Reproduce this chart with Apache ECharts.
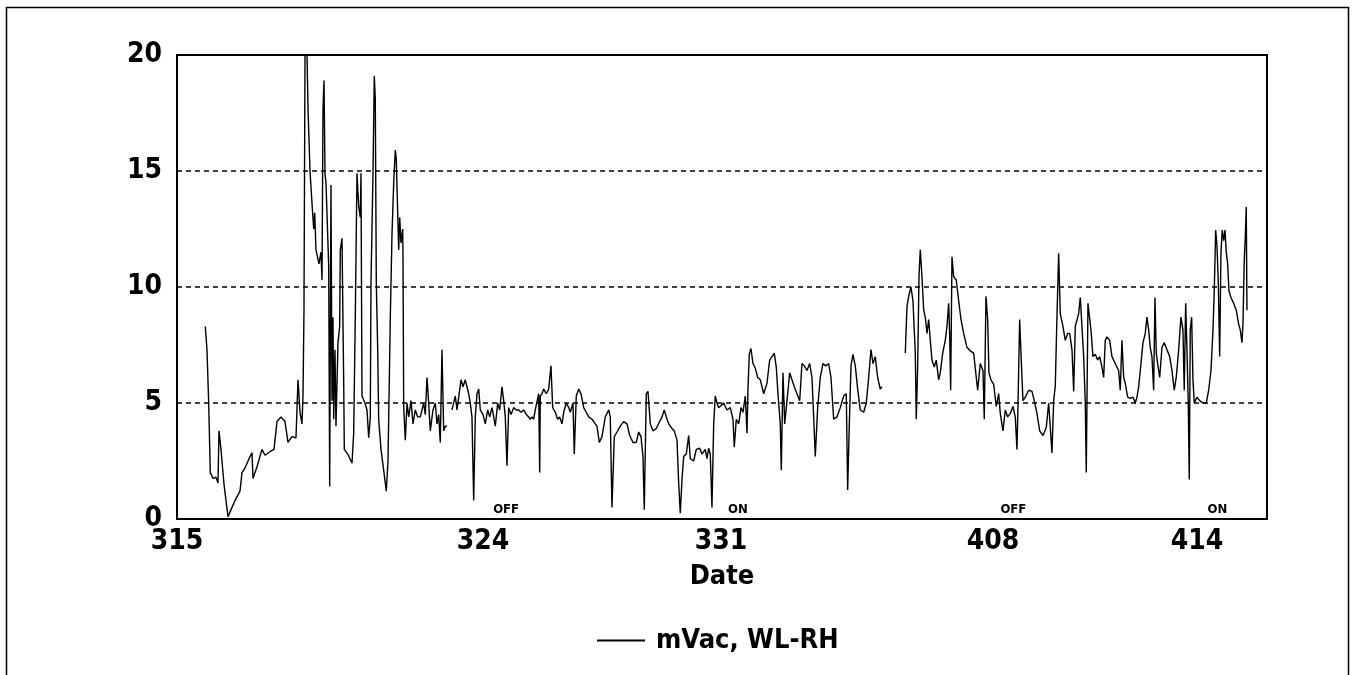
<!DOCTYPE html>
<html>
<head>
<meta charset="utf-8">
<script src="https://cdn.jsdelivr.net/npm/echarts@6/dist/echarts.min.js"></script>
<style>
html,body{margin:0;padding:0;background:#fff;}
#chart{width:1352px;height:675px;}
</style>
</head>
<body>
<div id="chart"></div>
<script>
// Time in days since 3/15 00:00
const times = [
0.832,0.882,0.932,0.979,1.059,1.147,1.206,1.235,1.294,1.382,1.5,1.618,1.706,1.853,1.912,2.0,2.118,2.206,2.235,2.353,
2.5,2.588,2.735,2.853,2.941,3.059,3.176,3.265,3.382,3.5,3.559,3.618,3.676,3.706,3.735,3.765,3.824,3.853,3.912,3.971,
4.021,4.05,4.088,4.176,4.235,4.265,4.294,4.324,4.353,4.382,4.462,4.491,4.529,4.559,4.588,4.609,4.647,4.676,4.735,4.785,
4.803,4.853,4.903,4.921,5.021,5.147,5.197,5.244,5.294,5.344,5.391,5.412,5.441,5.529,5.588,5.638,5.685,5.706,5.765,5.803,
5.832,5.862,5.903,5.932,6.0,6.088,6.156,6.206,6.274,6.324,6.374,6.421,6.45,6.491,6.521,6.55,6.588,6.638,6.647,6.668,
6.715,6.765,6.815,6.882,6.941,7.009,7.079,7.156,7.256,7.303,7.353,7.403,7.45,7.529,7.597,7.647,7.697,7.744,7.794,7.844,
7.891,7.941,8.0,
8.088,8.185,8.235,8.285,8.353,8.412,8.479,8.529,8.579,8.626,8.676,8.726,8.774,8.824,8.874,8.921,9.0,9.068,9.138,9.197,
9.265,9.315,9.362,9.432,9.491,9.559,9.609,9.656,9.706,9.756,9.824,9.903,9.979,10.05,10.118,10.197,10.274,10.344,10.391,10.441,
10.491,10.538,10.638,10.668,10.685,10.735,10.785,10.862,10.932,11.0,11.05,11.126,11.197,11.256,11.324,11.374,11.45,11.521,11.568,11.647,
11.685,11.744,11.815,11.882,11.962,12.038,12.109,12.206,12.303,12.353,12.421,12.5,12.597,12.697,12.744,12.794,12.862,12.941,13.038,13.138,
13.235,13.315,13.412,13.509,13.579,13.647,13.706,13.744,13.803,13.853,13.921,14.0,14.097,14.197,14.265,14.332,14.391,14.462,14.559,14.626,
14.706,14.756,14.803,14.853,14.903,14.979,15.05,15.097,15.197,15.274,15.374,15.441,15.538,15.588,15.638,15.685,15.735,15.785,15.832,15.882,
15.932,15.979,16.079,16.176,16.274,16.353,16.391,16.45,16.521,16.588,16.647,16.715,16.765,16.794,16.832,16.882,16.941,17.009,17.079,17.156,
17.256,17.353,17.432,17.5,17.568,17.626,17.676,17.744,17.774,17.824,17.874,17.941,18.021,18.088,18.156,18.235,18.315,18.382,18.45,18.529,
18.609,18.676,18.726,18.774,18.844,18.921,19.0,19.079,19.168,19.235,19.315,19.412,19.509,19.609,19.685,19.726,19.765,19.824,19.882,19.95,
20.021,20.097,20.197,20.274,20.344,20.412,20.471,20.538,20.609,20.685,20.735,21.0,
21.421,21.471,21.521,21.588,21.647,21.715,21.744,21.785,21.824,21.862,21.912,21.962,22.009,22.059,22.109,22.156,22.206,22.274,22.332,22.403,
22.45,22.521,22.597,22.647,22.697,22.726,22.756,22.794,22.844,22.921,22.991,23.059,23.138,23.235,23.332,23.432,23.509,23.55,23.626,23.706,
23.744,23.794,23.844,23.882,23.941,24.021,24.097,24.168,24.215,24.294,24.362,24.432,24.509,24.588,24.656,24.706,24.735,24.785,24.832,24.882,
24.95,25.05,25.147,25.215,25.294,25.374,25.471,25.568,25.638,25.685,25.735,25.785,25.832,25.882,25.932,25.979,26.059,26.126,26.197,26.256,
26.324,26.374,26.421,26.521,26.568,26.618,26.668,26.715,26.744,26.794,26.844,26.882,26.941,27.009,27.079,27.138,27.206,27.256,27.303,27.353,
27.432,27.5,27.597,27.697,27.744,27.794,27.844,27.891,27.962,28.038,28.118,28.185,28.235,28.285,28.353,28.412,28.479,28.529,28.579,28.626,
28.676,28.726,28.765,28.803,28.844,28.903,28.971,29.038,29.118,29.197,29.265,29.332,29.391,29.462,29.529,29.588,29.626,29.668,29.706,29.744,
29.774,29.803,29.844,29.882,29.921,30.0,30.079,30.176,30.274,30.344,30.412,30.471,30.509,30.55,30.588,30.626,30.668,30.706,30.744,30.785,
30.824,30.862,30.903,30.941,31.0,31.079,31.156,31.226,31.274,31.324,31.353,31.391,31.421,31.45,31.471
];
const values = [
8.3,7.3,5.0,2.0,1.75,1.8,1.55,3.8,3.0,1.5,0.1,0.5,0.8,1.2,2.0,2.2,2.6,2.85,1.75,2.25,
3.0,2.75,2.9,3.0,4.2,4.4,4.2,3.3,3.55,3.5,6.0,4.6,4.1,5.3,9.0,20,20,17.7,15,13.6,
12.5,13.2,11.6,11.0,11.5,10.3,17.7,18.9,14.9,14.5,10.9,1.4,14.4,5.1,8.7,4.3,7.3,4.0,7.6,8.3,
11.6,12.1,5.9,3.0,2.8,2.4,3.7,8.7,14.9,13.5,13.0,14.9,5.3,5.0,4.7,3.5,4.4,10.2,14.9,19.1,
18.1,10.2,7.3,4.3,3.0,2.0,1.2,2.5,8.7,12.3,14.5,15.9,15.5,13.2,11.6,13.0,11.9,12.5,11.3,4.8,
3.4,5.0,4.4,5.1,4.1,4.7,4.4,4.4,5.0,4.5,6.1,5.0,3.8,4.7,5.0,4.1,4.5,3.3,7.3,3.8,
4.0,4.0,null,
4.7,5.3,4.7,4.7,6.0,5.7,6.0,5.7,5.4,5.0,4.4,0.8,4.4,5.4,5.6,4.7,4.5,4.1,4.7,4.4,
4.8,4.4,4.0,5.0,4.7,5.7,5.1,4.4,2.3,4.8,4.5,4.8,4.7,4.7,4.6,4.7,4.5,4.4,4.3,4.4,
4.3,4.7,5.4,2.0,5.3,5.4,5.6,5.4,5.6,6.6,4.8,4.6,4.3,4.4,4.1,4.6,5.0,4.8,4.6,5.0,
2.8,5.3,5.6,5.4,4.8,4.6,4.4,4.3,4.1,4.0,3.3,3.55,4.4,4.7,4.4,0.5,3.55,3.75,4.0,4.2,
4.1,3.6,3.3,3.3,3.75,3.55,2.7,0.4,5.4,5.5,4.1,3.8,3.9,4.2,4.4,4.7,4.4,4.1,3.9,3.8,
3.4,1.55,0.25,1.7,2.7,2.8,3.6,2.6,2.5,3.0,3.05,2.8,3.0,2.6,3.05,2.8,0.5,4.1,5.3,5.0,
4.8,4.8,5.0,4.7,4.8,4.3,3.1,4.3,4.1,4.8,4.6,5.3,3.7,5.6,7.1,7.35,6.7,6.5,6.1,6.0,
5.4,5.85,6.85,7.0,7.15,6.55,5.4,4.1,2.1,6.3,4.1,5.1,6.3,6.0,5.7,5.4,5.1,6.7,6.6,6.4,
6.7,6.1,4.4,2.7,4.8,6.1,6.7,6.6,6.7,6.1,4.3,4.4,4.8,5.3,5.4,1.25,3.55,6.6,7.1,6.6,
5.6,4.7,4.6,5.0,6.1,7.3,6.7,7.0,6.1,5.6,5.7,null,
7.15,9.15,9.6,10.0,9.4,7.15,4.3,6.55,10.45,11.6,10.45,9.0,8.7,8.0,8.6,7.7,6.85,6.55,6.85,6.0,
6.3,7.15,7.7,8.3,9.3,8.0,5.55,11.3,10.45,10.3,9.4,8.6,8.0,7.4,7.25,7.15,6.1,5.55,6.7,6.4,
4.3,9.6,8.6,6.3,6.0,5.8,4.85,5.4,4.55,3.8,4.7,4.4,4.55,4.85,4.4,3.0,4.85,8.6,6.85,5.1,
5.25,5.55,5.5,5.1,4.55,3.8,3.6,3.95,5.0,5.0,2.85,5.1,5.7,8.7,11.45,8.85,8.3,7.7,8.0,8.0,
7.3,5.5,8.3,8.85,9.55,9.5,7.0,5.0,2.0,9.3,9.35,8.15,7.0,7.1,6.85,7.0,6.55,6.1,7.7,7.85,
7.7,7.0,6.7,6.4,5.55,7.7,6.1,5.85,5.25,5.2,5.25,5.0,5.25,5.7,6.7,7.6,8.0,8.7,8.15,7.4,
7.0,5.55,9.55,7.15,6.7,6.1,7.4,7.6,7.3,7.0,6.4,5.55,6.1,7.3,8.7,8.15,5.55,9.3,7.3,5.0,
1.7,8.15,8.7,6.0,5.0,5.25,5.1,5.0,5.0,5.55,6.4,8.15,9.85,12.45,11.8,10.3,7.0,11.5,12.45,12.0,
12.45,11.5,11.0,9.85,9.55,9.3,9.0,8.4,8.15,7.6,8.4,11.15,12.15,13.45,9.0
];
const tickDays = [0, 9, 16, 24, 30];
const tickLabels = ['315', '324', '331', '408', '414'];
const noteLabels = ['OFF', 'ON', 'OFF', 'ON'];
const noteDays = [9.68, 16.5, 24.6, 30.6];
const noteLevel = 0.4;
const seriesName = 'mVac, WL-RH';

const data = times.map((t, i) => [t, values[i]]);
const labelMap = {};
tickDays.forEach((d, i) => { labelMap[d] = tickLabels[i]; });

const FONT = '"Liberation Sans Narrow","DejaVu Sans Condensed","Liberation Sans",sans-serif';

const chart = echarts.init(document.getElementById('chart'), null, {renderer: 'canvas'});
chart.setOption({
  animation: false,
  backgroundColor: '#fff',
  grid: {left: 177, right: 85, top: 55, bottom: 156, show: true, borderColor: '#000', borderWidth: 2, backgroundColor: 'transparent'},
  xAxis: {
    type: 'value', min: 0, max: 32.06,
    name: 'Date', nameLocation: 'middle', nameGap: 44,
    nameTextStyle: {fontFamily: FONT, fontWeight: 'bold', fontSize: 27, color: '#000'},
    axisLine: {show: true, lineStyle: {color: '#000', width: 2}},
    axisTick: {show: false},
    splitLine: {show: false},
    axisLabel: {
      customValues: tickDays,
      formatter: v => labelMap[v] !== undefined ? labelMap[v] : '',
      fontFamily: FONT, fontWeight: 'bold', fontSize: 28, color: '#000', margin: 9
    }
  },
  yAxis: {
    type: 'value', min: 0, max: 20, interval: 5,
    axisLine: {show: true, lineStyle: {color: '#000', width: 2}},
    axisTick: {show: false},
    splitLine: {show: true, lineStyle: {color: '#000', type: [5, 4], width: 1.5}},
    axisLabel: {fontFamily: FONT, fontWeight: 'bold', fontSize: 28, color: '#000', margin: 15}
  },
  legend: {
    data: [{name: seriesName, icon: 'path://M0,0 L48,0 L48,2 L0,2 Z'}],
    bottom: 16, left: 592,
    itemWidth: 48, itemHeight: 2, itemGap: 10,
    textStyle: {fontFamily: FONT, fontWeight: 'bold', fontSize: 27, color: '#000', padding: [0, 0, 0, 6]}
  },
  graphic: [{
    type: 'rect', left: 4, top: 5, silent: true,
    shape: {width: 1342, height: 720},
    style: {fill: 'none', stroke: '#000', lineWidth: 1.5}
  }],
  series: [{
    name: seriesName, type: 'line', data: data,
    showSymbol: false, symbol: 'none', connectNulls: false,
    lineStyle: {color: '#000', width: 1.4},
    itemStyle: {color: '#000'},
    markPoint: {
      symbol: 'rect', symbolSize: 1,
      itemStyle: {color: 'rgba(0,0,0,0)'},
      label: {show: true, position: 'inside', formatter: '{b}', fontFamily: FONT, fontWeight: 'bold', fontSize: 13, color: '#000'},
      data: noteLabels.map((n, i) => ({name: n, coord: [noteDays[i], noteLevel]}))
    }
  }]
});
</script>
</body>
</html>
